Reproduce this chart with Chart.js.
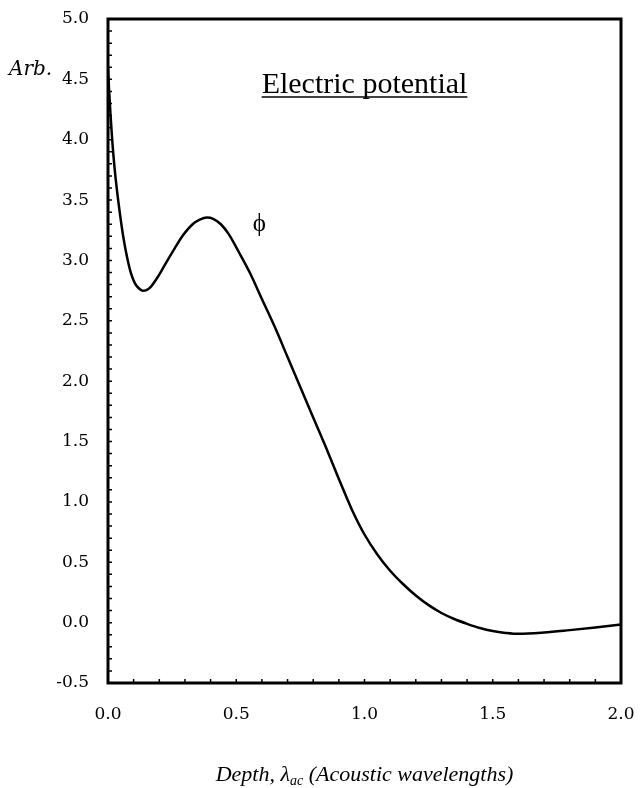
<!DOCTYPE html>
<html lang="en">
<head>
  <meta charset="UTF-8">
  <title>Electric potential</title>
  <script src="https://cdn.jsdelivr.net/npm/chart.js"></script>
  <style>
    html, body { margin: 0; padding: 0; background: #fff; }
    canvas { display: block; }
  </style>
</head>
<body>
  <canvas id="chart" width="640" height="788"></canvas>

  <script>
    // depth in acoustic wavelengths
    const depth = [0, 0.004, 0.01, 0.017, 0.025, 0.035, 0.047, 0.06, 0.075, 0.09, 0.105, 0.12, 0.135, 0.15,
      0.164, 0.19, 0.21, 0.229, 0.26, 0.293, 0.33, 0.36, 0.385, 0.41, 0.44, 0.47, 0.51, 0.555, 0.6, 0.65, 0.7,
      0.75, 0.8, 0.85, 0.9, 0.95, 1.0, 1.05, 1.1, 1.15, 1.2, 1.25, 1.3, 1.35, 1.4, 1.45, 1.5, 1.55, 1.6,
      1.7, 1.8, 1.9, 2.0];
    // electric potential (arb.)
    const potential = [4.6, 4.42, 4.2, 3.98, 3.78, 3.58, 3.38, 3.19, 3.02, 2.89, 2.81, 2.77, 2.75, 2.755,
      2.775, 2.85, 2.92, 2.99, 3.10, 3.21, 3.30, 3.34, 3.355, 3.345, 3.30, 3.22, 3.07, 2.89, 2.68, 2.45, 2.20,
      1.95, 1.70, 1.45, 1.19, 0.94, 0.73, 0.565, 0.43, 0.32, 0.225, 0.145, 0.08, 0.03, -0.01, -0.045, -0.07,
      -0.085, -0.093, -0.082, -0.062, -0.04, -0.015];

    const yMin = -0.5, yMax = 5.0;
    const xMin = 0, xMax = 2.0;
    const minorStep = 0.1;

    const points = depth.map((d, i) => ({ x: d, y: potential[i] }));

    const isMajor = v => Math.abs(v * 2 - Math.round(v * 2)) < 1e-6;
    const tickLabel = v => isMajor(v) ? v.toFixed(1) : '';

    // frame, inward ticks and the extra texts
    const decor = {
      id: 'decor',
      afterDraw(chart) {
        const ctx = chart.ctx;
        const a = chart.chartArea;
        const xs = chart.scales.x, ys = chart.scales.y;
        ctx.save();
        ctx.strokeStyle = '#000';

        // inward minor ticks
        ctx.lineWidth = 1.5;
        ctx.beginPath();
        ys.ticks.forEach(t => {
          const py = ys.getPixelForValue(t.value);
          ctx.moveTo(a.left, py);
          ctx.lineTo(a.left + 4, py);
        });
        xs.ticks.forEach(t => {
          const px = xs.getPixelForValue(t.value);
          ctx.moveTo(px, a.bottom);
          ctx.lineTo(px, a.bottom - 4);
        });
        ctx.stroke();

        // frame
        ctx.lineWidth = 3;
        ctx.strokeRect(a.left, a.top, a.right - a.left, a.bottom - a.top);

        ctx.fillStyle = '#000';
        const cx = (a.left + a.right) / 2;

        // underlined heading
        ctx.font = "30px 'Liberation Serif'";
        ctx.textBaseline = 'alphabetic';
        const head = 'Electric potential';
        const hw = ctx.measureText(head).width;
        ctx.fillText(head, cx - hw / 2, 93);
        ctx.lineWidth = 1.5;
        ctx.beginPath();
        ctx.moveTo(cx - hw / 2, 97);
        ctx.lineTo(cx + hw / 2, 97);
        ctx.stroke();

        // curve label
        ctx.font = "25px 'Liberation Serif'";
        ctx.textAlign = 'center';
        ctx.textBaseline = 'middle';
        ctx.fillText('\u03D5', xs.getPixelForValue(0.59), ys.getPixelForValue(3.3));

        // y unit
        ctx.font = "italic 20px 'DejaVu Serif'";
        ctx.textAlign = 'left';
        ctx.textBaseline = 'alphabetic';
        ctx.fillText('Arb.', 9, 75);

        // x axis title with subscript
        const big = "italic 22px 'Liberation Serif'";
        const small = "italic 14px 'Liberation Serif'";
        const p1 = 'Depth, \u03BB', p2 = 'ac', p3 = ' (Acoustic wavelengths)';
        ctx.font = big;
        const w1 = ctx.measureText(p1).width, w3 = ctx.measureText(p3).width;
        ctx.font = small;
        const w2 = ctx.measureText(p2).width;
        let tx = cx - (w1 + w2 + w3) / 2;
        const base = 781;
        ctx.font = big;
        ctx.fillText(p1, tx, base);
        tx += w1;
        ctx.font = small;
        ctx.fillText(p2, tx, base + 4);
        tx += w2;
        ctx.font = big;
        ctx.fillText(p3, tx, base);

        ctx.restore();
      }
    };

    new Chart(document.getElementById('chart'), {
      type: 'line',
      data: {
        datasets: [{
          label: 'Electric potential',
          data: points,
          borderColor: '#000',
          borderWidth: 2.5,
          pointRadius: 0,
          fill: false,
          cubicInterpolationMode: 'monotone'
        }]
      },
      options: {
        responsive: false,
        animation: false,
        layout: { padding: { top: 19, right: 19, left: 0, bottom: 0 } },
        plugins: {
          legend: { display: false },
          tooltip: { enabled: false }
        },
        scales: {
          x: {
            type: 'linear',
            min: xMin,
            max: xMax,
            grid: { display: false, drawTicks: false },
            border: { display: false },
            ticks: {
              stepSize: minorStep,
              autoSkip: false,
              maxRotation: 0,
              padding: 21,
              color: '#000',
              font: { family: "'DejaVu Serif'", size: 17 },
              callback: v => tickLabel(v)
            },
            afterFit: s => {
              s.height = 105;
              s.paddingLeft = 0;
              s.paddingRight = 0;
            }
          },
          y: {
            min: yMin,
            max: yMax,
            grid: { display: false, drawTicks: false },
            border: { display: false },
            ticks: {
              stepSize: minorStep,
              autoSkip: false,
              padding: 19,
              color: '#000',
              font: { family: "'DejaVu Serif'", size: 17 },
              callback: v => tickLabel(v)
            },
            afterFit: s => {
              s.width = 108;
              s.paddingTop = 0;
              s.paddingBottom = 0;
            }
          }
        }
      },
      plugins: [decor]
    });
  </script>
</body>
</html>
